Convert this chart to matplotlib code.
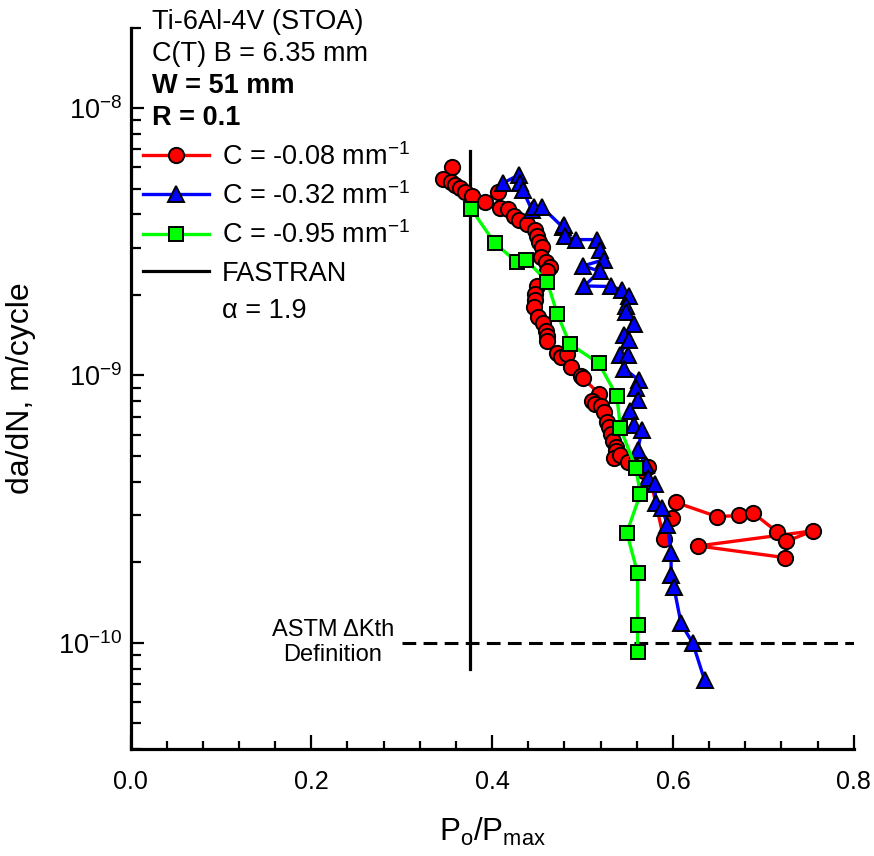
import matplotlib
matplotlib.use("Agg")
import matplotlib.pyplot as plt
from matplotlib.lines import Line2D
from matplotlib.ticker import MultipleLocator, FormatStrFormatter, FixedLocator, LogFormatterSciNotation, NullFormatter

plt.rcParams['font.family'] = ['Liberation Sans', 'DejaVu Sans']
plt.rcParams['mathtext.fontset'] = 'custom'
plt.rcParams['mathtext.rm'] = 'Liberation Sans'
plt.rcParams['mathtext.it'] = 'Liberation Sans:italic'
plt.rcParams['mathtext.bf'] = 'Liberation Sans:bold'
plt.rcParams['mathtext.default'] = 'regular'

# ---------------- data ----------------
red_x = [0.356, 0.346, 0.354, 0.359, 0.365, 0.370, 0.378, 0.392, 0.406, 0.409,
         0.418, 0.424, 0.430, 0.439, 0.448, 0.450, 0.452, 0.455, 0.454, 0.460,
         0.464, 0.461, 0.450, 0.448, 0.448, 0.446, 0.451, 0.456, 0.460, 0.461,
         0.461, 0.472, 0.476, 0.483, 0.487, 0.498, 0.501, 0.518, 0.511, 0.514,
         0.520, 0.524, 0.527, 0.529, 0.532, 0.534, 0.537, 0.537, 0.535, 0.542,
         0.550, 0.559, 0.568, 0.572, 0.590, 0.599, 0.603, 0.649, 0.673, 0.689,
         0.715, 0.725, 0.755, 0.628, 0.724]
red_y = [6.04e-9, 5.42e-9, 5.31e-9, 5.16e-9, 5.02e-9, 4.87e-9, 4.67e-9, 4.47e-9, 4.87e-9, 4.22e-9,
         4.20e-9, 3.95e-9, 3.82e-9, 3.69e-9, 3.50e-9, 3.33e-9, 3.16e-9, 3.03e-9, 2.78e-9, 2.66e-9,
         2.55e-9, 2.45e-9, 2.15e-9, 2.02e-9, 1.92e-9, 1.80e-9, 1.65e-9, 1.57e-9, 1.47e-9, 1.40e-9,
         1.34e-9, 1.21e-9, 1.17e-9, 1.20e-9, 1.07e-9, 9.96e-10, 9.76e-10, 8.53e-10, 7.99e-10, 7.82e-10,
         7.69e-10, 7.27e-10, 6.67e-10, 6.42e-10, 6.04e-10, 5.69e-10, 5.41e-10, 5.19e-10, 4.90e-10, 5.04e-10,
         4.72e-10, 4.56e-10, 4.37e-10, 4.56e-10, 2.44e-10, 2.92e-10, 3.35e-10, 2.96e-10, 2.99e-10, 3.05e-10,
         2.60e-10, 2.39e-10, 2.62e-10, 2.30e-10, 2.08e-10]

blue_x = [0.412, 0.430, 0.431, 0.434, 0.444, 0.446, 0.455, 0.478, 0.479, 0.481,
          0.493, 0.516, 0.519, 0.524, 0.501, 0.519, 0.502, 0.531, 0.544, 0.551,
          0.548, 0.548, 0.557, 0.546, 0.551, 0.541, 0.550, 0.546, 0.562, 0.559,
          0.561, 0.553, 0.557, 0.566, 0.561, 0.570, 0.573, 0.580, 0.581, 0.588,
          0.594, 0.598, 0.598, 0.601, 0.609, 0.622, 0.635]
blue_y = [5.24e-9, 5.63e-9, 5.24e-9, 4.92e-9, 4.16e-9, 4.28e-9, 4.26e-9, 3.59e-9, 3.66e-9, 3.31e-9,
          3.22e-9, 3.22e-9, 2.95e-9, 2.71e-9, 2.57e-9, 2.45e-9, 2.16e-9, 2.15e-9, 2.09e-9, 1.98e-9,
          1.81e-9, 1.72e-9, 1.55e-9, 1.42e-9, 1.36e-9, 1.19e-9, 1.19e-9, 1.06e-9, 9.62e-10, 8.96e-10,
          8.10e-10, 7.36e-10, 6.53e-10, 6.25e-10, 5.26e-10, 4.62e-10, 4.12e-10, 3.93e-10, 3.32e-10, 3.18e-10,
          2.76e-10, 2.16e-10, 1.79e-10, 1.62e-10, 1.18e-10, 9.95e-11, 7.25e-11]

green_x = [0.377, 0.403, 0.427, 0.438, 0.461, 0.472, 0.486, 0.518, 0.538, 0.542,
           0.559, 0.564, 0.549, 0.561, 0.561, 0.561]
green_y = [4.19e-9, 3.12e-9, 2.66e-9, 2.70e-9, 2.24e-9, 1.70e-9, 1.31e-9, 1.11e-9, 8.36e-10, 6.34e-10,
           4.49e-10, 3.60e-10, 2.58e-10, 1.82e-10, 1.16e-10, 9.25e-11]

fastran_x = [0.375, 0.375]
fastran_y = [8.0e-11, 6.9e-9]

astm_x = [0.30, 0.80]
astm_y = [1e-10, 1e-10]

labels = ['C = -0.08 mm$^{-1}$', 'C = -0.32 mm$^{-1}$', 'C = -0.95 mm$^{-1}$', 'FASTRAN', '\u03b1 = 1.9']
header = ['Ti-6Al-4V (STOA)', 'C(T) B = 6.35 mm', 'W = 51 mm', 'R = 0.1']
x_ticks = [0.0, 0.2, 0.4, 0.6, 0.8]
y_ticks = [1e-10, 1e-9, 1e-8]
y_minor = [m * d for d in (1e-11, 1e-10, 1e-9, 1e-8) for m in range(2, 10)]

# ---------------- figure ----------------
W, H = 874, 856
fig = plt.figure(figsize=(W / 100, H / 100), dpi=100)
ax = fig.add_axes([130.5 / W, 1 - 749 / H, (853.7 - 130.5) / W, (749 - 27.6) / H])

mk = dict(markeredgecolor='black', markeredgewidth=1.4)
ax.plot(red_x, red_y, '-', color='#ff0000', lw=2.4, marker='o', ms=11, markerfacecolor='#ff0000', zorder=3, **mk)
ax.plot(blue_x, blue_y, '-', color='#0000ff', lw=2.4, marker='^', ms=11, markerfacecolor='#0000ff', zorder=4, **mk)
ax.plot(green_x, green_y, '-', color='#00ff00', lw=2.4, marker='s', ms=9.5, markerfacecolor='#00ff00', zorder=5, **mk)
ax.plot(fastran_x, fastran_y, '-', color='black', lw=2.3, zorder=2)
ax.plot(astm_x, astm_y, color='black', lw=2.2, linestyle=(0, (4.5, 2.4)), zorder=2)

ax.set_yscale('log')
ax.set_xlim(0, 0.8)
ax.set_ylim(4e-11, 2e-8)

for s in ['top', 'right']:
    ax.spines[s].set_visible(False)
for s in ['left', 'bottom']:
    ax.spines[s].set_linewidth(2.3)

ax.set_xticks(x_ticks)
ax.xaxis.set_minor_locator(MultipleLocator(0.04))
ax.xaxis.set_major_formatter(FormatStrFormatter('%.1f'))
ax.xaxis.set_minor_formatter(NullFormatter())
ax.yaxis.set_major_locator(FixedLocator(y_ticks))
ax.yaxis.set_minor_locator(FixedLocator([v for v in y_minor if 4e-11 <= v <= 2e-8]))
ax.yaxis.set_major_formatter(LogFormatterSciNotation())
ax.yaxis.set_minor_formatter(NullFormatter())

ax.tick_params(axis='both', which='both', direction='in', width=1.6, colors='black')
ax.tick_params(axis='x', which='major', length=10, labelsize=18, pad=15)
ax.tick_params(axis='x', which='minor', length=6)
ax.tick_params(axis='y', which='major', length=9, labelsize=19.5, pad=6)
ax.tick_params(axis='y', which='minor', length=7.5)

ax.set_xlabel('P$_{o}$/P$_{max}$', fontsize=22.5, labelpad=16)
ax.set_ylabel('da/dN, m/cycle', fontsize=23, labelpad=16)

# header text
hx = 152 / W
base_y = [29, 61, 93, 125]
weights = ['normal', 'normal', 'bold', 'bold']
for t, by, w in zip(header, base_y, weights):
    fig.text(hx, 1 - by / H, t, fontsize=19.5, fontweight=w, ha='left', va='baseline')

# legend
handles = [
    Line2D([], [], color='#ff0000', lw=2.4, marker='o', ms=11, markerfacecolor='#ff0000', **mk),
    Line2D([], [], color='#0000ff', lw=2.4, marker='^', ms=11, markerfacecolor='#0000ff', **mk),
    Line2D([], [], color='#00ff00', lw=2.4, marker='s', ms=9.5, markerfacecolor='#00ff00', **mk),
    Line2D([], [], color='black', lw=2.3),
    Line2D([], [], linestyle='none'),
]
leg = ax.legend(handles, labels, loc='upper left', bbox_to_anchor=(143 / W, 1 - 143 / H),
                bbox_transform=fig.transFigure, frameon=False, fontsize=19.5,
                handlelength=2.45, handletextpad=0.45, labelspacing=0.42,
                borderpad=0, borderaxespad=0, numpoints=1)

# ASTM annotation
ax.text(0.224, 1e-10, 'ASTM \u0394Kth\nDefinition', fontsize=17, ha='center', va='center',
        linespacing=1.15)

fig.savefig('out.png', dpi=100)
